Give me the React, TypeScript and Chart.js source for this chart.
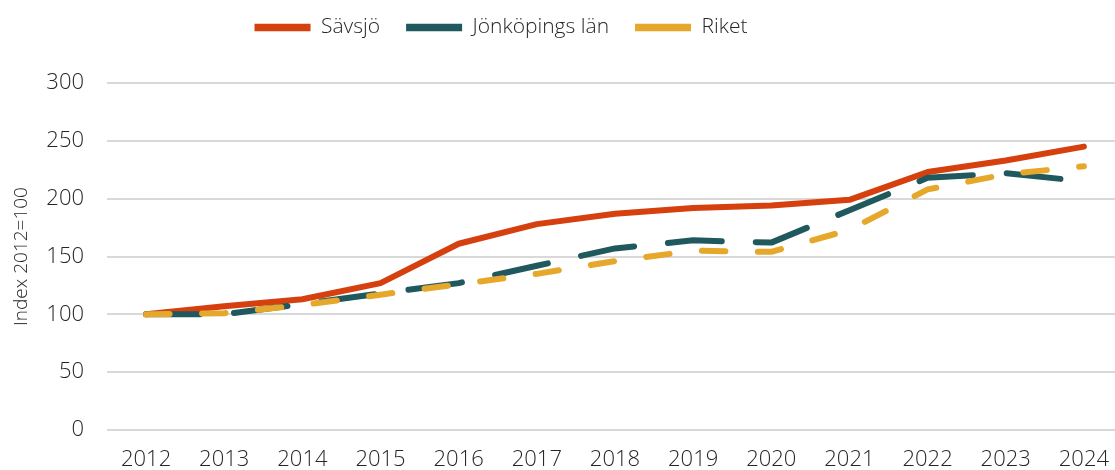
import React, { useEffect, useRef } from "react";
import { Chart, registerables } from "chart.js";

Chart.register(...registerables);

const years = ["2012", "2013", "2014", "2015", "2016", "2017", "2018", "2019", "2020", "2021", "2022", "2023", "2024"];
const savsjo = [100, 107, 113, 127, 161, 178, 187, 192, 194, 199, 223, 233, 245];
const jonkoping = [100, 100, 109, 118, 127, 142, 157, 164, 162, 190, 218, 222, 215];
const riket = [100, 101, 108, 117, 126, 135, 146, 155, 154, 173, 208, 221, 228];
const seriesNames = ["Sävsjö", "Jönköpings län", "Riket"];
const yTicks = [0, 50, 100, 150, 200, 250, 300];

const FONT = "'Open Sans', Lato, sans-serif";

export default function App() {
  const ref = useRef<HTMLCanvasElement>(null);

  useEffect(() => {
    document.body.style.margin = "0";
    const canvas = ref.current;
    if (!canvas) return;

    const legendTweak = {
      id: "legendTweak",
      beforeInit(chart: any) {
        const lg = chart.legend;
        if (lg) {
          const orig = lg.fit;
          lg.fit = function () {
            orig.call(this);
            this.height += 26;
          };
        }
      },
      afterLayout(chart: any) {
        const lg = chart.legend;
        if (lg) {
          const dx = 66;
          const dy = 9;
          lg.left -= dx;
          lg.right -= dx;
          lg.top -= dy;
          lg.bottom -= dy;
        }
      },
    };

    const chart = new Chart(canvas, {
      type: "line",
      data: {
        labels: years,
        datasets: [
          {
            label: seriesNames[0],
            data: savsjo,
            borderColor: "#D5400E",
            backgroundColor: "#D5400E",
            borderWidth: 6,
            borderCapStyle: "round",
            borderJoinStyle: "round",
            pointRadius: 0,
            tension: 0,
            order: 3,
          },
          {
            label: seriesNames[1],
            data: jonkoping,
            borderColor: "#1F585D",
            backgroundColor: "#1F585D",
            borderWidth: 6,
            borderDash: [54, 34],
            borderCapStyle: "round",
            borderJoinStyle: "round",
            pointRadius: 0,
            tension: 0,
            order: 2,
          },
          {
            label: seriesNames[2],
            data: riket,
            borderColor: "#E6A82B",
            backgroundColor: "#E6A82B",
            borderWidth: 6,
            borderDash: [23.5, 32.5],
            borderCapStyle: "round",
            borderJoinStyle: "round",
            pointRadius: 0,
            tension: 0,
            order: 1,
          },
        ],
      },
      options: {
        animation: false,
        responsive: false,
        maintainAspectRatio: false,
        layout: { padding: { left: 8, right: 0, top: 0, bottom: 0 } },
        plugins: {
          tooltip: { enabled: false },
          legend: {
            position: "top",
            labels: {
              usePointStyle: true,
              pointStyle: "line",
              pointStyleWidth: 56,
              padding: 26,
              color: "#262626",
              font: { family: FONT, size: 21, weight: "300" },
              sort: (a: any, b: any) => a.datasetIndex - b.datasetIndex,
              generateLabels: (ch: any) => {
                const items = Chart.defaults.plugins.legend.labels.generateLabels(ch);
                return items.map((it: any) => ({ ...it, lineWidth: 7.5, pointStyle: "line" }));
              },
            },
          },
        },
        scales: {
          x: {
            offset: true,
            grid: { display: false, drawTicks: false },
            border: { display: false },
            afterFit: (axis: any) => {
              axis.height = 40;
            },
            ticks: {
              color: "#262626",
              padding: 17,
              maxRotation: 0,
              autoSkip: false,
              font: { family: FONT, size: 22, weight: "300" },
            },
          },
          y: {
            min: 0,
            max: 300,
            afterBuildTicks: (axis: any) => {
              axis.ticks = yTicks.map((v) => ({ value: v }));
            },
            afterFit: (axis: any) => {
              axis.width = 99;
            },
            grid: { color: "#D9D9D9", lineWidth: 2, drawTicks: false },
            border: { display: false },
            ticks: {
              color: "#262626",
              padding: 23,
              font: { family: FONT, size: 22, weight: "300" },
            },
            title: {
              display: true,
              text: "Index 2012=100",
              color: "#262626",
              padding: { top: 2, bottom: 4 },
              font: { family: FONT, size: 19, weight: "300" },
            },
          },
        },
      },
      plugins: [legendTweak],
    });
    return () => chart.destroy();
  }, []);

  return (
    <div style={{ width: 1115, height: 470, position: "relative", overflow: "hidden" }}>
      <canvas ref={ref} width={1126} height={470} style={{ display: "block", width: 1126, height: 470 }} />
    </div>
  );
}
